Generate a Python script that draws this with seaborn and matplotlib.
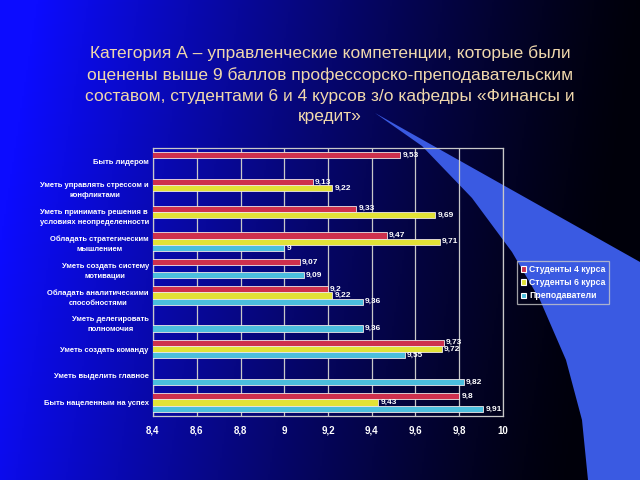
import numpy as np
import pandas as pd
import matplotlib
matplotlib.use("Agg")
import matplotlib.pyplot as plt
from matplotlib.patches import Polygon
import seaborn as sns

categories = [
    "Быть лидером",
    "Уметь управлять стрессом и\nконфликтами",
    "Уметь принимать решения в\nусловиях неопределенности",
    "Обладать стратегическим\nмышлением",
    "Уметь создать систему\nмотивации",
    "Обладать аналитическими\nспособностями",
    "Уметь делегировать\nполномочия",
    "Уметь создать команду",
    "Уметь выделить главное",
    "Быть нацеленным на успех",
]
series = ["Студенты 4 курса", "Студенты 6 курса", "Преподаватели"]
students4 = [9.53, 9.13, 9.33, 9.47, 9.07, 9.2, np.nan, 9.73, np.nan, 9.8]
students6 = [np.nan, 9.22, 9.69, 9.71, np.nan, 9.22, np.nan, 9.72, np.nan, 9.43]
teachers = [np.nan, np.nan, np.nan, 9.0, 9.09, 9.36, 9.36, 9.55, 9.82, 9.91]
x_ticks = [8.4, 8.6, 8.8, 9.0, 9.2, 9.4, 9.6, 9.8, 10.0]
x_tick_labels = ["8,4", "8,6", "8,8", "9", "9,2", "9,4", "9,6", "9,8", "10"]
title = ("Категория А – управленческие компетенции, которые были\n"
         "оценены выше 9 баллов профессорско-преподавательским\n"
         "составом, студентами 6 и 4 курсов з/о кафедры «Финансы и\n"
         "кредит»")
colors = ["#e8163c", "#ffff1a", "#33ccf5"]

rows = []
for name, vals in zip(series, [students4, students6, teachers]):
    for c, v in zip(categories, vals):
        rows.append({"cat": c, "series": name, "value": v})
df = pd.DataFrame(rows)

sns.set_theme(style="white")
plt.rcParams["font.family"] = ["Liberation Sans", "DejaVu Sans"]

W, H = 640, 480
fig = plt.figure(figsize=(6.4, 4.8), dpi=100)

# background gradient
bg = fig.add_axes([0, 0, 1, 1], zorder=-10)
xx = np.linspace(0, 1, 320)
yy = np.linspace(0, 1, 240)
X, Y = np.meshgrid(xx, yy)
t = np.clip(X * 1.05 + (Y - 0.5) * 0.12, 0, 1)
b = 245 * (1 - t) ** 1.3 + 10
r = 12 * (1 - t)
img = np.dstack([r, r, b]) / 255.0
img = np.clip(img, 0, 1)
bg.imshow(img, extent=[0, W, H, 0], aspect="auto", origin="upper")
# decorative swoosh
pts = [(375, 113), (640, 262), (640, 480), (588, 480), (582, 420),
       (566, 360), (540, 300), (512, 252), (472, 198), (422, 146)]
bg.add_patch(Polygon(pts, closed=True, facecolor="#3a5ae2", edgecolor="none"))
bg.set_xlim(0, W)
bg.set_ylim(H, 0)
bg.axis("off")

ax = fig.add_axes([153 / W, 1 - 416 / H, 350 / W, 268 / H])
ax.set_facecolor("none")
sns.barplot(data=df, y="cat", x="value", hue="series", order=categories,
            hue_order=series, palette=colors, orient="h", width=0.7,
            edgecolor="#f0e8e8", linewidth=0.6, ax=ax, legend=True, zorder=3)

for cont in ax.containers:
    labels = [f"{bar.get_width():g}".replace(".", ",") for bar in cont]
    ax.bar_label(cont, labels=labels, padding=1.5, color="white",
                 fontsize=6, fontweight="bold", zorder=4)

ax.set_xlim(8.4, 10.0)
ax.set_xticks(x_ticks)
ax.set_xticklabels(x_tick_labels, color="white", fontsize=7, fontweight="bold")
ax.set_xlabel("")
ax.set_ylabel("")
ax.set_yticks(range(len(categories)))
ax.set_yticklabels(categories, color="white", fontsize=5.5, fontweight="bold",
                   multialignment="center", linespacing=1.6)
ax.set_yticks(np.arange(-0.5, len(categories), 1.0), minor=True)
ax.tick_params(axis="y", which="major", length=0, pad=3)
ax.tick_params(axis="y", which="minor", length=3, color="#c8c8c8", direction="out")
ax.tick_params(axis="x", which="major", length=3, color="#c8c8c8", direction="out", pad=4)
ax.xaxis.grid(True, color="#c8c8c8", linewidth=0.9, zorder=0)
ax.set_axisbelow(True)
for s in ax.spines.values():
    s.set_visible(True)
    s.set_color("#c8c8c8")
    s.set_linewidth(0.9)

handles, labs = ax.get_legend_handles_labels()
ax.get_legend().remove()
for h in handles:
    h.set_edgecolor("white")
    h.set_linewidth(0.8)
leg = fig.legend(handles, labs, loc="upper left",
                 bbox_to_anchor=(517 / W, 1 - 261 / H), bbox_transform=fig.transFigure,
                 frameon=True, fontsize=6.2, handlelength=0.6, handleheight=0.6,
                 handletextpad=0.35, borderpad=0.45, labelspacing=0.5,
                 borderaxespad=0, fancybox=False)
leg.get_frame().set_facecolor("none")
leg.get_frame().set_edgecolor("#c8c8c8")
leg.get_frame().set_linewidth(0.9)
for txt in leg.get_texts():
    txt.set_color("white")
    txt.set_fontweight("bold")

fig.text(330 / W, 1 - 85 / H, title, ha="center", va="center", fontsize=12.5,
         color="#f0d8ac", linespacing=1.45)

fig.savefig("out.png", dpi=100)
